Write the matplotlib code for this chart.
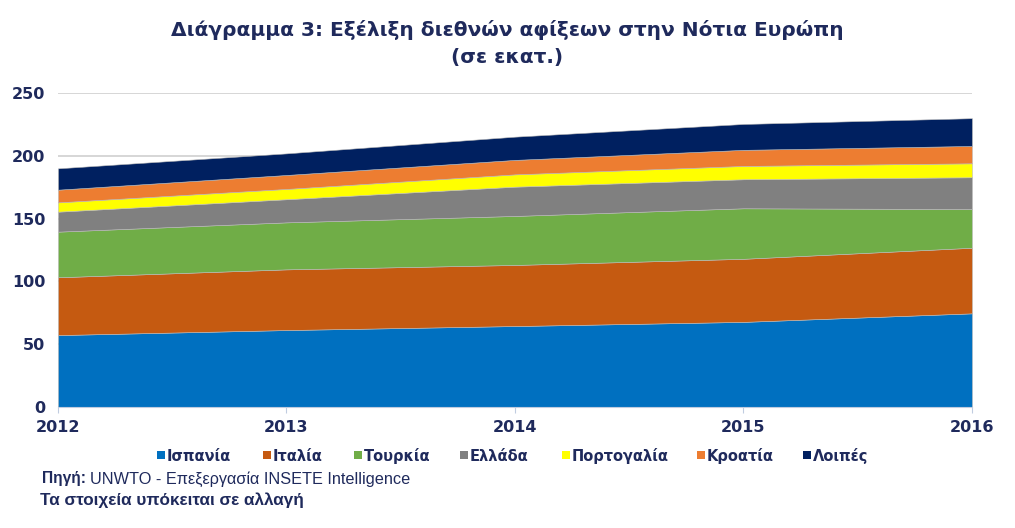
import matplotlib
matplotlib.use("Agg")
import matplotlib.pyplot as plt
from matplotlib.patches import Rectangle

# Δεδομένα (εκατ. αφίξεις)
etos = [2012, 2013, 2014, 2015, 2016]
ispania = [57.3, 61.3, 64.5, 67.8, 74.6]
italia = [46.0, 48.3, 48.6, 50.2, 52.2]
tourkia = [36.3, 37.4, 39.0, 40.2, 30.8]
ellada = [15.9, 18.4, 23.3, 23.1, 25.3]
portogalia = [7.4, 8.2, 9.8, 10.6, 11.1]
kroatia = [10.1, 11.1, 11.5, 12.8, 13.8]
loipes = [17.0, 17.2, 18.5, 20.6, 22.1]

xores = ["Ισπανία", "Ιταλία", "Τουρκία", "Ελλάδα", "Πορτογαλία", "Κροατία", "Λοιπές"]
xromata = ["#0070C0", "#C55A11", "#70AD47", "#808080", "#FFFF00", "#ED7D31", "#002060"]

navy = "#1F2A5C"
narrow = ["Liberation Sans", "DejaVu Sans"]

W, H = 1015, 528
fig = plt.figure(figsize=(W / 100, H / 100), dpi=100)
ax = fig.add_axes([0.0571, 0.229, 0.9005, 0.595])

ax.stackplot(etos, ispania, italia, tourkia, ellada, portogalia, kroatia, loipes,
             colors=xromata, linewidth=0.4, edgecolor="#bbbbbb")

ax.set_xlim(2012, 2016)
ax.set_ylim(0, 250)
ax.set_yticks(range(0, 251, 50))
ax.set_xticks(etos)
ax.grid(axis="y", color="#d0d0d0", linewidth=1.2)
ax.set_axisbelow(True)
for s in ["left", "right", "top"]:
    ax.spines[s].set_visible(False)
ax.spines["bottom"].set_color("#c0cce0")
ax.tick_params(axis="y", length=0, pad=9, labelsize=11.5, labelcolor=navy)
ax.tick_params(axis="x", length=4, color="#c0cce0", pad=5, labelsize=11.5, labelcolor=navy)
for lbl in ax.get_xticklabels() + ax.get_yticklabels():
    lbl.set_fontweight("bold")

fig.text(0.5, 0.943, "Διάγραμμα 3: Εξέλιξη διεθνών αφίξεων στην Νότια Ευρώπη",
         ha="center", va="center", fontsize=14.5, fontweight="bold", color=navy)
fig.text(0.5, 0.892, "(σε εκατ.)", ha="center", va="center",
         fontsize=14.5, fontweight="bold", color=navy)

# υπόμνημα με το χέρι, όπως στο excel
leg_x = [157, 263, 354, 460, 562, 697, 803]
for xp, c, name in zip(leg_x, xromata, xores):
    fig.patches.append(Rectangle((xp / W, 1 - 459 / H), 8 / W, 8 / H,
                                 transform=fig.transFigure, facecolor=c, edgecolor="none"))
    fig.text((xp + 10) / W, 1 - 461 / H, name, ha="left", va="baseline", fontsize=10.5,
             fontweight="bold", color=navy)

# γραμμή πηγής: πρώτα το έντονο "Πηγή:" και μετά το υπόλοιπο κείμενο
t1 = fig.text(0.041, 0.093, "Πηγή:", ha="left", va="center", fontsize=11.2,
              fontweight="bold", color=navy, family=narrow)
fig.canvas.draw()
bb = t1.get_window_extent()
x2 = (bb.x1 + 4) / fig.bbox.width
fig.text(x2, 0.093, "UNWTO - Επεξεργασία INSETE Intelligence", ha="left", va="center",
         fontsize=11.7, color=navy, family=narrow)
fig.text(0.039, 0.052, "Τα στοιχεία υπόκειται σε αλλαγή", ha="left", va="center",
         fontsize=12.3, fontweight="bold", color=navy, family=narrow)

fig.savefig("out.png", dpi=100)
